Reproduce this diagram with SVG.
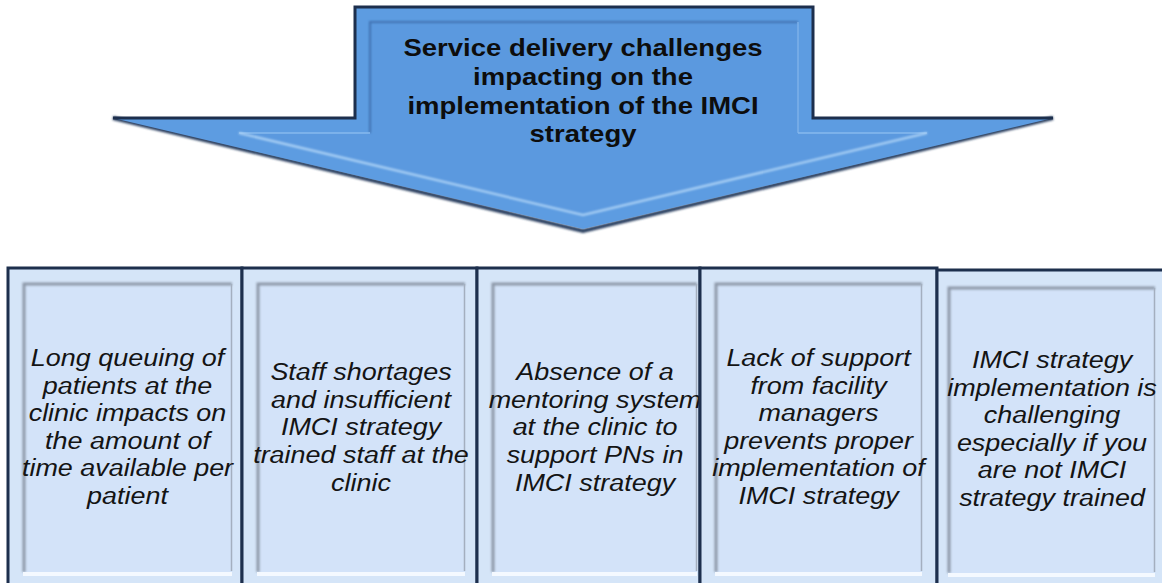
<svg xmlns="http://www.w3.org/2000/svg" width="1162" height="583" viewBox="0 0 1162 583">
  <defs>
    <filter id="blur" x="-10%" y="-10%" width="120%" height="130%">
      <feGaussianBlur stdDeviation="1.3"/>
    </filter>
    <filter id="soft" x="-5%" y="-5%" width="110%" height="110%">
      <feGaussianBlur stdDeviation="0.9"/>
    </filter>
    <style>
      .title { font-family: "Liberation Sans", Arial, sans-serif; font-weight: bold; font-size: 23.5px; fill: #0d0d0d; text-anchor: middle; }
      .body { font-family: "Liberation Sans", Arial, sans-serif; font-style: italic; font-size: 24.5px; fill: #141414; text-anchor: middle; }
      .outer { fill: #d5e5f8; stroke: #1d2f4d; stroke-width: 3; }
      .inner { fill: #d3e3f9; }
      .shadowTL { fill: none; stroke: #8d98a8; stroke-width: 3; filter: url(#soft); }
      .shadowR { fill: none; stroke: #a4afbf; stroke-width: 1.5; }
      .hiB { fill: none; stroke: #f4f9ff; stroke-width: 4; }
    </style>
  </defs>

  <!-- Top arrow node -->
  <g id="arrow">
    <path d="M113,118 L583,231 L1053,118" fill="none" stroke="#2b3f60" stroke-width="4" filter="url(#blur)"/>
    <path d="M355,7 L813,7 L813,118 L1053,118 L583,229 L113,118 L355,118 Z" fill="#5d9ce1"/>
    <path d="M370,22 L798,22 L798,133 L927,133 L583,215 L239,133 L370,133 Z" fill="#5b99df"/>
    <path d="M370,133 L370,22 L798,22" fill="none" stroke="#3f72b2" stroke-width="2" filter="url(#soft)"/>
    <path d="M798,22 L798,133" fill="none" stroke="#7db0e8" stroke-width="1.5"/>
    <path d="M239,133 L370,133 M798,133 L927,133" fill="none" stroke="#86b9ee" stroke-width="1.5"/>
    <path d="M239,133 L583,215 L927,133" fill="none" stroke="#b3d7f8" stroke-width="2" filter="url(#soft)"/>
    <path d="M113,118 L355,118 L355,7 L813,7 L813,118 L1053,118" fill="none" stroke="#1d2f4d" stroke-width="3" stroke-linejoin="miter"/>
    <g transform="translate(583,0) scale(1.17,1)">
      <text class="title" x="0" y="56">Service delivery challenges</text>
      <text class="title" x="0" y="85">impacting on the</text>
      <text class="title" x="0" y="114">implementation of the IMCI</text>
      <text class="title" x="0" y="142">strategy</text>
    </g>
  </g>

  <!-- Connectors (none in this figure) -->
  <g id="connectors"></g>

  <!-- Box 1 -->
  <g id="box1">
    <rect class="outer" x="8" y="268" width="234" height="330"/>
    <rect class="inner" x="23" y="283" width="209" height="289"/>
    <path class="shadowTL" d="M24,572 L24,284 L232,284"/>
    <path class="shadowR" d="M231.5,284 L231.5,571"/>
    <path class="hiB" d="M23,574 L232,574"/>
    <g transform="translate(127.5,0) scale(1.1,1)">
      <text class="body" x="0" y="366">Long queuing of</text>
      <text class="body" x="0" y="394">patients at the</text>
      <text class="body" x="0" y="421">clinic impacts on</text>
      <text class="body" x="0" y="449">the amount of</text>
      <text class="body" x="0" y="476">time available per</text>
      <text class="body" x="0" y="504">patient</text>
    </g>
  </g>

  <!-- Box 2 -->
  <g id="box2">
    <rect class="outer" x="242" y="268" width="235" height="330"/>
    <rect class="inner" x="257" y="283" width="208" height="289"/>
    <path class="shadowTL" d="M258,572 L258,284 L465,284"/>
    <path class="shadowR" d="M464.5,284 L464.5,571"/>
    <path class="hiB" d="M257,574 L465,574"/>
    <g transform="translate(361,0) scale(1.1,1)">
      <text class="body" x="0" y="380">Staff shortages</text>
      <text class="body" x="0" y="408">and insufficient</text>
      <text class="body" x="0" y="435">IMCI strategy</text>
      <text class="body" x="0" y="463">trained staff at the</text>
      <text class="body" x="0" y="491">clinic</text>
    </g>
  </g>

  <!-- Box 3 -->
  <g id="box3">
    <rect class="outer" x="477" y="268" width="223" height="330"/>
    <rect class="inner" x="492" y="283" width="205" height="289"/>
    <path class="shadowTL" d="M493,572 L493,284 L697,284"/>
    <path class="shadowR" d="M696.5,284 L696.5,571"/>
    <path class="hiB" d="M492,574 L697,574"/>
    <g transform="translate(595,0) scale(1.1,1)">
      <text class="body" x="0" y="380">Absence of a</text>
      <text class="body" x="0" y="408">mentoring system</text>
      <text class="body" x="0" y="435">at the clinic to</text>
      <text class="body" x="0" y="463">support PNs in</text>
      <text class="body" x="0" y="491">IMCI strategy</text>
    </g>
  </g>

  <!-- Box 4 -->
  <g id="box4">
    <rect class="outer" x="700" y="268" width="237" height="330"/>
    <rect class="inner" x="715" y="283" width="207" height="289"/>
    <path class="shadowTL" d="M716,572 L716,284 L922,284"/>
    <path class="shadowR" d="M921.5,284 L921.5,571"/>
    <path class="hiB" d="M715,574 L922,574"/>
    <g transform="translate(818.5,0) scale(1.1,1)">
      <text class="body" x="0" y="366">Lack of support</text>
      <text class="body" x="0" y="394">from facility</text>
      <text class="body" x="0" y="421">managers</text>
      <text class="body" x="0" y="449">prevents proper</text>
      <text class="body" x="0" y="476">implementation of</text>
      <text class="body" x="0" y="504">IMCI strategy</text>
    </g>
  </g>

  <!-- Box 5 -->
  <g id="box5">
    <rect class="outer" x="937" y="270" width="240" height="330"/>
    <rect class="inner" x="948" y="287" width="207" height="286"/>
    <path class="shadowTL" d="M949,573 L949,288 L1155,288"/>
    <path class="shadowR" d="M1154.5,288 L1154.5,572"/>
    <path class="hiB" d="M948,575 L1155,575"/>
    <g transform="translate(1052,0) scale(1.1,1)">
      <text class="body" x="0" y="368">IMCI strategy</text>
      <text class="body" x="0" y="396">implementation is</text>
      <text class="body" x="0" y="423">challenging</text>
      <text class="body" x="0" y="451">especially if you</text>
      <text class="body" x="0" y="478">are not IMCI</text>
      <text class="body" x="0" y="506">strategy trained</text>
    </g>
  </g>
</svg>
